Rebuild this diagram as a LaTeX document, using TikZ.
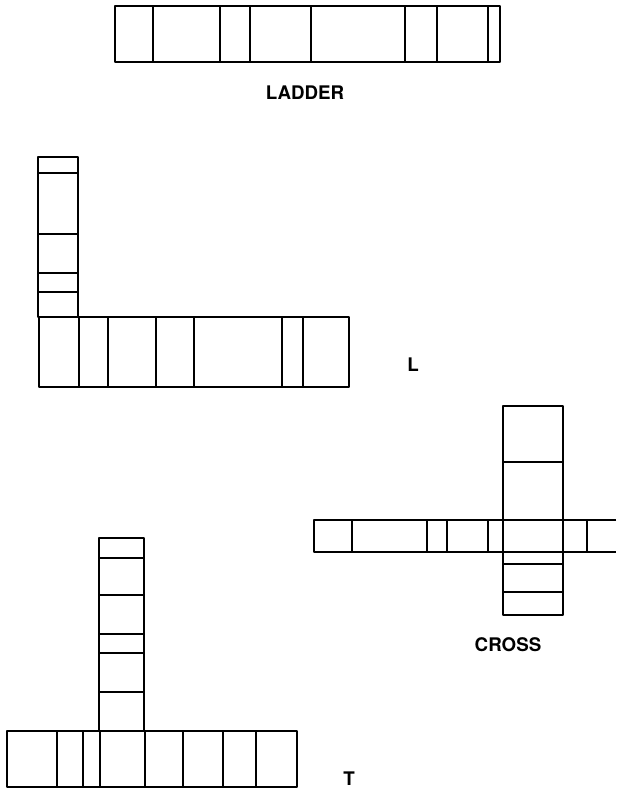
\documentclass[tikz,border=0pt]{standalone}
\usepackage{fontspec}
\setsansfont{TeX Gyre Heros}
\usepackage{tikz}

\begin{document}
\begin{tikzpicture}[
  x=0.03cm, y=-0.03cm,
  font=\sffamily\bfseries\fontsize{16}{19}\selectfont,
  barLine/.style={draw, line width=2pt, line join=round},
  shapeLabel/.style={inner sep=0pt, anchor=center}
]
  \useasboundingbox (0,0) rectangle (616,792);

  % ladder
  \draw [barLine] (115,6) rectangle (500,62);
  \foreach \x in {153,220,250,311,405,437,488}
    \draw [barLine] (\x,6) -- (\x,62);
  \node [shapeLabel] (ladderLabel) at (305,93) {LADDER};

  % L
  \draw [barLine] (38,157) rectangle (78,317);
  \foreach \y in {173,234,273,292}
    \draw [barLine] (38,\y) -- (78,\y);
  \draw [barLine] (39,317) rectangle (349,387);
  \foreach \x in {79,108,156,194,282,303}
    \draw [barLine] (\x,317) -- (\x,387);
  \node [shapeLabel] (lLabel) at (413,365) {L};

  % cross
  \draw [barLine] (616,520) -- (314,520) -- (314,552) -- (616,552);
  \foreach \x in {352,427,447,488,587}
    \draw [barLine] (\x,520) -- (\x,552);
  \draw [barLine] (503,406) rectangle (563,615);
  \foreach \y in {462,564,592}
    \draw [barLine] (503,\y) -- (563,\y);
  \node [shapeLabel] (crossLabel) at (508,645) {CROSS};

  % T
  \draw [barLine] (99,538) rectangle (144,731);
  \foreach \y in {558,595,634,653,692}
    \draw [barLine] (99,\y) -- (144,\y);
  \draw [barLine] (7,731) rectangle (297,787);
  \foreach \x in {57,83,100,145,183,223,256}
    \draw [barLine] (\x,731) -- (\x,787);
  \node [shapeLabel] (tLabel) at (349,779) {T};
\end{tikzpicture}
\end{document}
